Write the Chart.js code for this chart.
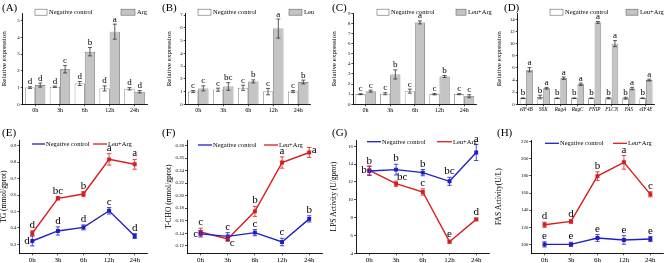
<!DOCTYPE html>
<html>
<head>
<meta charset="utf-8">
<script src="https://cdn.jsdelivr.net/npm/chart.js@4.4.1/dist/chart.umd.min.js"></script>
<style>
body { margin: 0; background: #fff; width: 669px; height: 263px; overflow: hidden; position: relative; }
canvas { position: absolute; }
.tag { position: absolute; font: 11px 'Liberation Serif', serif; color: #000; }
</style>
</head>
<body>
<div id="wrap"></div>
<script>
// categories
const hours = ['0h', '3h', '6h', '12h', '24h'];
const genes = ['eIF4B', 'S6K', 'RagA', 'RagC', 'FNIP', 'FLCN', 'FAS', 'eIF4E'];

// (A) Arg, relative expression
const aCtrl = [1.0, 1.05, 1.25, 0.95, 0.93];
const aCtrlErr = [0.05, 0.04, 0.12, 0.15, 0.07];
const aCtrlLet = ['d', 'd', 'd', 'd', 'd'];
const aTrt = [1.15, 2.1, 3.15, 4.35, 0.75];
const aTrtErr = [0.12, 0.22, 0.25, 0.45, 0.07];
const aTrtLet = ['d', 'c', 'b', 'a', 'd'];
const aTicks = [0, 1, 2, 3, 4, 5];

// (B) Leu
const bCtrl = [1.0, 1.15, 1.3, 1.0, 1.0];
const bCtrlErr = [0.08, 0.12, 0.2, 0.25, 0.08];
const bCtrlLet = ['c', 'c', 'c', 'c', 'c'];
const bTrt = [1.25, 1.4, 1.8, 5.95, 1.75];
const bTrtErr = [0.2, 0.3, 0.12, 0.75, 0.15];
const bTrtLet = ['c', 'bc', 'b', 'a', 'b'];
const bTicks = [0, 1, 2, 3, 4, 5, 6, 7];

// (C) Leu+Arg
const cCtrl = [1.0, 1.05, 1.3, 1.0, 1.0];
const cCtrlErr = [0.05, 0.1, 0.2, 0.07, 0.05];
const cCtrlLet = ['c', 'c', 'c', 'c', 'c'];
const cTrt = [1.3, 2.95, 8.1, 2.75, 0.8];
const cTrtErr = [0.1, 0.45, 0.15, 0.1, 0.15];
const cTrtLet = ['c', 'b', 'a', 'b', 'c'];
const cTicks = [0, 1, 2, 3, 4, 5, 6, 7, 8, 9];

// (D) genes, Leu+Arg
const dCtrl = [1.0, 1.2, 1.0, 1.0, 1.0, 1.0, 1.0, 1.0];
const dCtrlErr = [0.05, 0.3, 0.05, 0.05, 0.05, 0.1, 0.15, 0.05];
const dCtrlLet = ['b', 'b', 'b', 'b', 'b', 'b', 'b', 'b'];
const dTrt = [5.7, 2.65, 4.3, 3.3, 13.5, 10.0, 2.6, 4.0];
const dTrtErr = [0.35, 0.15, 0.2, 0.2, 0.15, 0.5, 0.2, 0.15];
const dTrtLet = ['a', 'a', 'a', 'a', 'a', 'a', 'a', 'a'];
const dTicks = [0, 2, 4, 6, 8, 10, 12, 14];

// (E) TG
const eCtrl = [0.32, 0.381, 0.403, 0.504, 0.35];
const eCtrlErr = [0.03, 0.025, 0.015, 0.02, 0.015];
const eCtrlLet = ['d', 'd', 'd', 'c', 'd'];
const eTrt = [0.367, 0.58, 0.606, 0.817, 0.787];
const eTrtErr = [0.015, 0.01, 0.015, 0.035, 0.03];
const eTrtLet = ['d', 'bc', 'b', 'a', 'a'];
const eTicks = [0.3, 0.4, 0.5, 0.6, 0.7, 0.8, 0.9];

// (F) T-CHO
const fCtrl = [0.139, 0.135, 0.141, 0.126, 0.163];
const fCtrlErr = [0.005, 0.006, 0.005, 0.006, 0.005];
const fCtrlLet = ['c', 'c', 'c', 'c', 'b'];
const fTrt = [0.142, 0.131, 0.175, 0.253, 0.269];
const fTrtErr = [0.006, 0.004, 0.008, 0.009, 0.008];
const fTrtLet = ['c', 'c', 'b', 'a', 'a'];
const fTicks = [0.12, 0.14, 0.16, 0.18, 0.20, 0.22, 0.24, 0.26, 0.28];

// (G) LPS activity
const gCtrl = [13.22, 13.38, 13.04, 12.07, 15.3];
const gCtrlErr = [0.5, 0.6, 0.35, 0.45, 0.9];
const gCtrlLet = ['b', 'b', 'b', 'bc', 'a'];
const gTrt = [13.3, 11.8, 10.87, 5.3, 7.8];
const gTrtErr = [0.5, 0.3, 0.35, 0.15, 0.15];
const gTrtLet = ['b', 'bc', 'c', 'e', 'd'];
const gTicks = [4, 6, 8, 10, 12, 14, 16];

// (H) FAS activity
const hCtrl = [100, 100, 107.5, 105.2, 106.3];
const hCtrlErr = [3, 2.5, 4, 5, 3];
const hCtrlLet = ['e', 'e', 'e', 'e', 'e'];
const hTrt = [123, 126.8, 179.8, 195.9, 158.5];
const hTrtErr = [3, 2, 5, 8, 3];
const hTrtLet = ['d', 'd', 'b', 'a', 'c'];
const hTicks = [100, 120, 140, 160, 180, 200, 220];

const serif = "'Liberation Serif', 'Times New Roman', serif";
const blue = '#1f1fc8';
const red = '#d81e1e';

// letter placement around each mark (u = above, l = left, r = right, dr = below right, ur = above right)
const up5 = ['u', 'u', 'u', 'u', 'u'];

const panels = [
    { tag: '(A)', tagPos: [2, 1], kind: 'bar', labels: hours, ctrl: aCtrl, ctrlErr: aCtrlErr, ctrlLet: aCtrlLet, trt: aTrt, trtErr: aTrtErr, trtLet: aTrtLet,
      trtName: 'Arg', yTitle: 'Relative expression', min: 0, max: 5.45, ticks: aTicks, dec: 0,
      canvas: [0, 0, 165, 130], box: [22.7, 13.3, 147, 104.3], legend: [[35, 49], [121, 137]], legendY: 12.2, catPct: 0.82 },
    { tag: '(B)', tagPos: [162, 1], kind: 'bar', labels: hours, ctrl: bCtrl, ctrlErr: bCtrlErr, ctrlLet: bCtrlLet, trt: bTrt, trtErr: bTrtErr, trtLet: bTrtLet,
      trtName: 'Leu', yTitle: 'Relative expression', min: 0, max: 7.15, ticks: bTicks, dec: 0,
      canvas: [165, 0, 165, 130], box: [185.7, 13.3, 310.7, 104.3], legend: [[198, 213], [289, 304]], legendY: 12.2, catPct: 0.82 },
    { tag: '(C)', tagPos: [332, 1], kind: 'bar', labels: hours, ctrl: cCtrl, ctrlErr: cCtrlErr, ctrlLet: cCtrlLet, trt: cTrt, trtErr: cTrtErr, trtLet: cTrtLet,
      trtName: 'Leu+Arg', yTitle: 'Relative expression', min: 0, max: 9.0, ticks: cTicks, dec: 0,
      canvas: [330, 0, 165, 130], box: [353.3, 13.3, 476.5, 104.3], legend: [[377, 391], [456, 468]], legendY: 12.2, catPct: 0.82 },
    { tag: '(D)', tagPos: [504, 1], kind: 'bar', labels: genes, ctrl: dCtrl, ctrlErr: dCtrlErr, ctrlLet: dCtrlLet, trt: dTrt, trtErr: dTrtErr, trtLet: dTrtLet,
      trtName: 'Leu+Arg', yTitle: 'Relative expression', min: 0, max: 15, ticks: dTicks, dec: 0,
      canvas: [495, 0, 174, 130], box: [517.7, 13.3, 654.5, 104.3], legend: [[550, 565], [626, 640]], legendY: 12.2, catPct: 0.76, italic: true },
    { tag: '(E)', tagPos: [2, 126], kind: 'line', labels: hours, ctrl: eCtrl, ctrlErr: eCtrlErr, ctrlLet: eCtrlLet, trt: eTrt, trtErr: eTrtErr, trtLet: eTrtLet,
      ctrlPos: ['l', 'u', 'u', 'u', 'u'], trtPos: up5,
      trtName: 'Leu+Arg', yTitle: 'TG (mmol/gprot)', min: 0.245, max: 0.935, ticks: eTicks, dec: 1,
      canvas: [0, 130, 165, 133], box: [19.5, 140, 147.5, 253.3], legend: [[32, 46], [93, 108]], legendY: 144 },
    { tag: '(F)', tagPos: [162, 126], kind: 'line', labels: hours, ctrl: fCtrl, ctrlErr: fCtrlErr, ctrlLet: fCtrlLet, trt: fTrt, trtErr: fTrtErr, trtLet: fTrtLet,
      ctrlPos: ['l', 'u', 'u', 'u', 'u'], trtPos: ['u', 'dr', 'u', 'u', 'r'],
      trtName: 'Leu+Arg', yTitle: 'T-CHO (mmol/gprot)', min: 0.108, max: 0.289, ticks: fTicks, dec: 2,
      canvas: [165, 130, 165, 133], box: [187, 140, 322.8, 253.3], legend: [[198, 213], [264, 279]], legendY: 145 },
    { tag: '(G)', tagPos: [332, 126], kind: 'line', labels: hours, ctrl: gCtrl, ctrlErr: gCtrlErr, ctrlLet: gCtrlLet, trt: gTrt, trtErr: gTrtErr, trtLet: gTrtLet,
      ctrlPos: up5, trtPos: ['l', 'ur', 'u', 'u', 'u'],
      trtName: 'Leu+Arg', yTitle: 'LPS Activity (U/gprot)', min: 4, max: 16.7, ticks: gTicks, dec: 0,
      canvas: [330, 130, 165, 133], box: [356, 140, 494, 253.3], legend: [[367, 382], [437, 453]], legendY: 141.7 },
    { tag: '(H)', tagPos: [497, 126], kind: 'line', labels: hours, ctrl: hCtrl, ctrlErr: hCtrlErr, ctrlLet: hCtrlLet, trt: hTrt, trtErr: hTrtErr, trtLet: hTrtLet,
      ctrlPos: up5, trtPos: up5,
      trtName: 'Leu+Arg', yTitle: 'FAS Activity(U/L)', min: 89.6, max: 222, ticks: hTicks, dec: 0,
      canvas: [495, 130, 174, 133], box: [531.3, 140, 667.8, 253.3], legend: [[545, 560], [613, 628]], legendY: 143.3 },
];

const marksPlugin = {
    id: 'marks',
    afterDatasetsDraw(chart, args, opts) {
        const p = opts.panel;
        if (!p) return;
        const ctx = chart.ctx;
        const y = chart.scales.y;
        const isBar = p.kind === 'bar';
        const groups = [
            { values: p.ctrl, errs: p.ctrlErr, lets: p.ctrlLet, pos: p.ctrlPos, color: isBar ? '#333' : blue },
            { values: p.trt, errs: p.trtErr, lets: p.trtLet, pos: p.trtPos, color: isBar ? '#333' : red },
        ];
        ctx.save();
        groups.forEach((g, di) => {
            const meta = chart.getDatasetMeta(di);
            meta.data.forEach((el, i) => {
                const top = y.getPixelForValue(g.values[i] + g.errs[i]);
                const bot = y.getPixelForValue(g.values[i] - g.errs[i]);
                const cap = isBar ? 2 : 2.2;
                ctx.strokeStyle = g.color;
                ctx.lineWidth = 0.8;
                ctx.beginPath();
                ctx.moveTo(el.x, top); ctx.lineTo(el.x, bot);
                ctx.moveTo(el.x - cap, top); ctx.lineTo(el.x + cap, top);
                ctx.moveTo(el.x - cap, bot); ctx.lineTo(el.x + cap, bot);
                ctx.stroke();

                ctx.fillStyle = '#000';
                ctx.font = (isBar ? '9px ' : '11px ') + serif;
                const where = g.pos ? g.pos[i] : 'u';
                const py = y.getPixelForValue(g.values[i]);
                if (where === 'u') {
                    ctx.textAlign = 'center'; ctx.textBaseline = 'bottom';
                    ctx.fillText(g.lets[i], el.x, top - 0.3);
                } else if (where === 'l') {
                    ctx.textAlign = 'right'; ctx.textBaseline = 'middle';
                    ctx.fillText(g.lets[i], el.x - 2.5, py);
                } else if (where === 'r') {
                    ctx.textAlign = 'left'; ctx.textBaseline = 'middle';
                    ctx.fillText(g.lets[i], el.x + 2.5, py - 2);
                } else if (where === 'dr') {
                    ctx.textAlign = 'left'; ctx.textBaseline = 'middle';
                    ctx.fillText(g.lets[i], el.x + 2, bot + 2);
                } else if (where === 'ur') {
                    ctx.textAlign = 'left'; ctx.textBaseline = 'bottom';
                    ctx.fillText(g.lets[i], el.x + 1, py - 1);
                }
            });
        });

        // legend
        const ox = p.canvas[0], oy = p.canvas[1];
        const names = ['Negative control', p.trtName];
        ctx.font = '6.5px ' + serif;
        ctx.textAlign = 'left';
        ctx.textBaseline = 'middle';
        p.legend.forEach((item, k) => {
            const lx = item[0] - ox, tx = item[1] - ox, ly = p.legendY - oy;
            if (isBar) {
                ctx.fillStyle = k === 0 ? '#fff' : '#c4c4c4';
                ctx.strokeStyle = '#666';
                ctx.lineWidth = 0.6;
                ctx.fillRect(lx, ly - 3, tx - lx - 2, 6);
                ctx.strokeRect(lx, ly - 3, tx - lx - 2, 6);
            } else {
                ctx.strokeStyle = k === 0 ? blue : red;
                ctx.lineWidth = 1.3;
                ctx.beginPath(); ctx.moveTo(lx, ly); ctx.lineTo(tx - 1, ly); ctx.stroke();
            }
            ctx.fillStyle = '#000';
            ctx.fillText(names[k], tx, ly + 0.3);
        });
        ctx.restore();
    },
};

const wrap = document.getElementById('wrap');
panels.forEach((p) => {
    const [cx, cy, cw, ch] = p.canvas;
    const [bl, bt, br, bb] = p.box;
    const cv = Object.assign(document.createElement('canvas'), { width: cw, height: ch });
    cv.style.left = cx + 'px';
    cv.style.top = cy + 'px';
    cv.style.width = cw + 'px';
    cv.style.height = ch + 'px';
    wrap.append(cv);
    const tag = Object.assign(document.createElement('div'), { className: 'tag', innerText: p.tag });
    tag.style.left = p.tagPos[0] + 'px';
    tag.style.top = p.tagPos[1] + 'px';
    wrap.append(tag);

    const isBar = p.kind === 'bar';
    const datasets = isBar
        ? [
              { data: p.ctrl, backgroundColor: '#fff', borderColor: '#555', borderWidth: 0.7 },
              { data: p.trt, backgroundColor: '#c4c4c4', borderColor: '#555', borderWidth: 0.7 },
          ]
        : [
              { data: p.ctrl, borderColor: blue, backgroundColor: blue, borderWidth: 1.4, pointStyle: 'rect', pointRadius: 1.8 },
              { data: p.trt, borderColor: red, backgroundColor: red, borderWidth: 1.4, pointStyle: 'rect', pointRadius: 1.8 },
          ];

    new Chart(cv, {
        type: p.kind,
        data: { labels: p.labels, datasets: datasets },
        options: {
            responsive: false,
            animation: false,
            events: [],
            layout: { padding: { left: 0, bottom: 0, top: bt - cy, right: cx + cw - br } },
            datasets: { bar: { categoryPercentage: p.catPct || 0.8, barPercentage: 1 } },
            scales: {
                x: {
                    offset: true,
                    grid: { display: true, drawOnChartArea: false, offset: false, tickLength: 2, color: '#000', lineWidth: 0.7 },
                    border: { display: true, color: '#000', width: 0.9 },
                    ticks: {
                        color: '#000',
                        padding: 0.5,
                        maxRotation: 0,
                        autoSkip: false,
                        font: { family: serif, size: isBar ? (p.italic ? 5.2 : 6) : 7, style: p.italic ? 'italic' : 'normal' },
                    },
                    afterFit: (s) => { s.height = cy + ch - bb; },
                },
                y: {
                    min: p.min,
                    max: p.max,
                    grid: { display: true, drawOnChartArea: false, tickLength: 2, color: '#000', lineWidth: 0.7 },
                    border: { display: true, color: '#000', width: 0.9 },
                    ticks: {
                        color: '#000',
                        padding: 1,
                        font: { family: serif, size: 4.8 },
                        callback: (v) => Number(v).toFixed(p.dec),
                    },
                    afterBuildTicks: (s) => { s.ticks = p.ticks.map((v) => ({ value: v })); },
                    title: { display: true, text: p.yTitle, color: '#000', padding: 0, font: { family: serif, size: isBar ? 7 : 7.5 } },
                    afterFit: (s) => { s.width = bl - cx; },
                },
            },
            plugins: {
                legend: { display: false },
                tooltip: { enabled: false },
                marks: { panel: p },
            },
        },
        plugins: [marksPlugin],
    });
});
</script>
</body>
</html>
